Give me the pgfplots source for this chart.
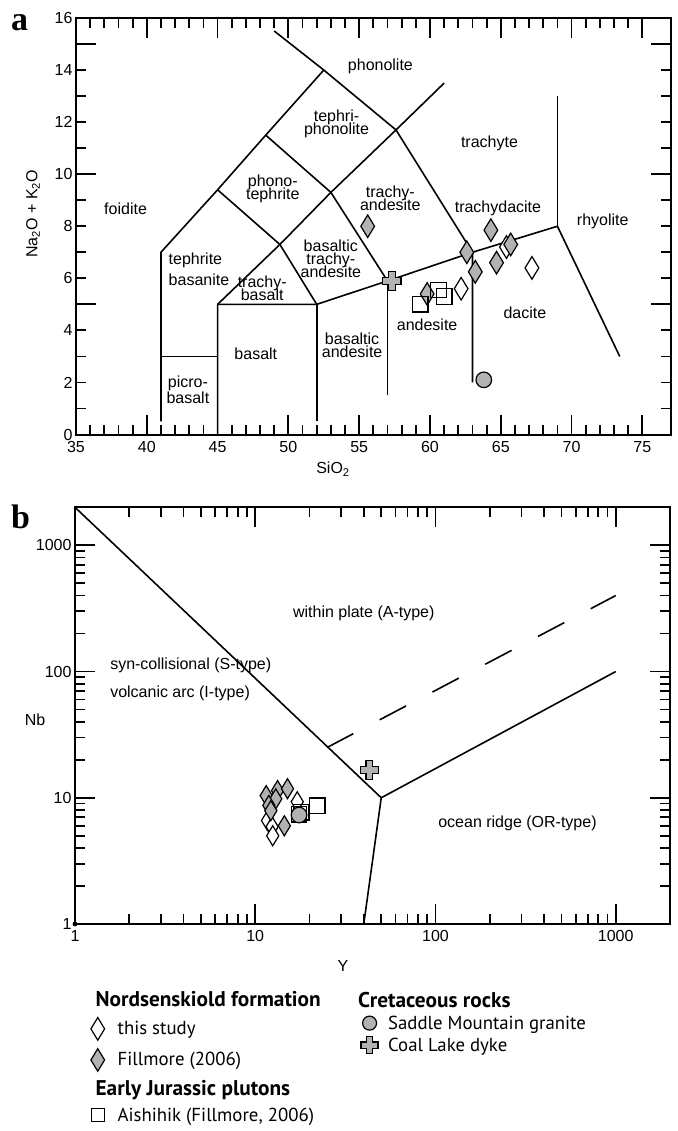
\documentclass[border=0pt]{standalone}
\usepackage{fontspec}
\setmainfont{Liberation Sans}
\newfontfamily\legfont{PT Sans}
\newfontfamily\panelfont{Liberation Serif}
\usepackage{pgfplots}
\pgfplotsset{compat=1.18}

\definecolor{markgray}{RGB}{178,178,178}

% Greek cross with an outline, used for the Coal Lake dyke
\pgfdeclareplotmark{fatplus}{%
  \pgfpathmoveto{\pgfqpoint{-0.36\pgfplotmarksize}{\pgfplotmarksize}}%
  \pgfpathlineto{\pgfqpoint{0.36\pgfplotmarksize}{\pgfplotmarksize}}%
  \pgfpathlineto{\pgfqpoint{0.36\pgfplotmarksize}{0.36\pgfplotmarksize}}%
  \pgfpathlineto{\pgfqpoint{\pgfplotmarksize}{0.36\pgfplotmarksize}}%
  \pgfpathlineto{\pgfqpoint{\pgfplotmarksize}{-0.36\pgfplotmarksize}}%
  \pgfpathlineto{\pgfqpoint{0.36\pgfplotmarksize}{-0.36\pgfplotmarksize}}%
  \pgfpathlineto{\pgfqpoint{0.36\pgfplotmarksize}{-\pgfplotmarksize}}%
  \pgfpathlineto{\pgfqpoint{-0.36\pgfplotmarksize}{-\pgfplotmarksize}}%
  \pgfpathlineto{\pgfqpoint{-0.36\pgfplotmarksize}{-0.36\pgfplotmarksize}}%
  \pgfpathlineto{\pgfqpoint{-\pgfplotmarksize}{-0.36\pgfplotmarksize}}%
  \pgfpathlineto{\pgfqpoint{-\pgfplotmarksize}{0.36\pgfplotmarksize}}%
  \pgfpathlineto{\pgfqpoint{-0.36\pgfplotmarksize}{0.36\pgfplotmarksize}}%
  \pgfpathclose
  \pgfusepathqfillstroke
}

\newcommand\lab{\fontsize{16}{13}\selectfont\lineskiplimit=-50pt\relax}

\pgfplotsset{
  frame/.style={
    scale only axis, clip=false,
    axis line style={line width=2pt},
    tick style={line width=1.8pt, black},
    tick align=inside,
    xtick pos=both, ytick pos=both,
    xticklabel pos=lower, yticklabel pos=left,
    major tick length=20pt, minor tick length=10pt,
    tick label style={font=\fontsize{16}{16}\selectfont},
    xticklabel style={yshift=-3pt},
    /pgf/number format/assume math mode=true,
  },
  field/.style={black, line width=1.6pt, no markers},
  openDiam/.style={only marks, mark=diamond*, mark size=#1,
    mark options={xscale=0.81, fill=white, draw=black, line width=1.2pt}},
  greyDiam/.style={only marks, mark=diamond*, mark size=#1,
    mark options={xscale=0.81, fill=markgray, draw=black, line width=1.2pt}},
  openSq/.style={only marks, mark=square, mark size=#1,
    mark options={draw=black, line width=1.3pt}},
  greyDot/.style={only marks, mark=*, mark size=#1,
    mark options={fill=markgray, draw=black, line width=1.2pt}},
  greyCross/.style={only marks, mark=fatplus, mark size=#1,
    mark options={fill=markgray, draw=black, line width=1.2pt}},
}

\begin{document}
\begin{tikzpicture}[x=1pt,y=1pt]
\useasboundingbox (0,0) rectangle (677,-1131);

% ---------------- (a) total alkali vs silica ----------------
\begin{axis}[frame,
  at={(76pt,-434.5pt)}, anchor=south west,
  width=594.7pt, height=416.5pt,
  xmin=35, xmax=77, ymin=0, ymax=16,
  xtick={35,40,...,75}, minor x tick num=4,
  ytick={5,10,15}, yticklabels={{},{},{}},
  minor ytick={1,2,...,16},
  extra y ticks={0,2,...,16},
  extra y tick labels={0,2,4,6,8,10,12,14,16},
  extra y tick style={major tick length=10pt},
]
\addplot[field] coordinates {(41,0.5) (41,7) (45,9.4) (48.4,11.5) (52.5,14)};
\addplot[field] coordinates {(49,15.5) (52.5,14) (57.6,11.7) (63,7) (63,2)};
\addplot[field] coordinates {(41,3) (45,3)};
\addplot[field] coordinates {(45,0) (45,5) (52,5) (57,5.9) (63,7) (69,8) (73.4,3)};
\addplot[field] coordinates {(52,0.5) (52,5)};
\addplot[field] coordinates {(57,1.5) (57,5.9)};
\addplot[field] coordinates {(45,5) (49.4,7.3) (53,9.3) (57.6,11.7) (61,13.5)};
\addplot[field] coordinates {(45,9.4) (49.4,7.3) (52,5)};
\addplot[field] coordinates {(48.4,11.5) (53,9.3) (57,5.9)};
\addplot[field] coordinates {(69,8) (69,13)};

\node[font=\lab] at (axis cs:56.5,14.16) {phonolite};
\node[font=\lab, align=center] at (axis cs:53.4,11.95) {tephri-\\phonolite};
\node[font=\lab] at (axis cs:64.2,11.2) {trachyte};
\node[font=\lab, align=center] at (axis cs:48.9,9.42) {phono-\\tephrite};
\node[font=\lab] at (axis cs:38.5,8.68) {foidite};
\node[font=\lab, anchor=west] at (axis cs:41.3,6.7) {tephrite};
\node[font=\lab, anchor=west] at (axis cs:41.3,5.93) {basanite};
\node[font=\lab, align=center] at (axis cs:48.15,5.6) {trachy-\\basalt};
\node[font=\lab, align=center] at (axis cs:53.0,6.76) {basaltic\\trachy-\\andesite};
\node[font=\lab, align=center] at (axis cs:57.2,9.07) {trachy-\\andesite};
\node[font=\lab] at (axis cs:64.8,8.68) {trachydacite};
\node[font=\lab] at (axis cs:72.2,8.17) {rhyolite};
\node[font=\lab] at (axis cs:47.7,3.1) {basalt};
\node[font=\lab, align=center] at (axis cs:54.5,3.44) {basaltic\\andesite};
\node[font=\lab] at (axis cs:59.8,4.2) {andesite};
\node[font=\lab] at (axis cs:66.7,4.69) {dacite};
\node[font=\fontsize{16}{15.7}\selectfont, align=center] at (axis cs:42.9,1.73) {picro-\\basalt};

% Nordsenskiold formation, this study
\addplot[openDiam=11.3pt] coordinates {(65.4,7.2) (62.2,5.6) (67.2,6.4)};
% Nordsenskiold formation, Fillmore (2006)
\addplot[greyDiam=11.3pt] coordinates {(55.6,8.0) (62.6,7.0) (64.3,7.85) (63.2,6.25) (64.7,6.6) (65.7,7.3) (59.8,5.4)};
% Aishihik pluton
\addplot[openSq=7.8pt] coordinates {(59.3,5.0) (60.6,5.55) (61.0,5.3)};
% Saddle Mountain granite
\addplot[greyDot=7.8pt] coordinates {(63.8,2.1)};
% Coal Lake dyke
\addplot[greyCross=9.3pt] coordinates {(57.3,5.9)};
\end{axis}

\node[font=\fontsize{16}{16}\selectfont] at (333,-469) {SiO\textsubscript{2}};
\node[font=\fontsize{16}{16}\selectfont, rotate=90] at (33,-214) {Na\textsubscript{2}O + K\textsubscript{2}O};
\node[font=\panelfont\bfseries\fontsize{34}{34}\selectfont, anchor=base west, inner sep=0pt] at (11,-31) {a};

% ---------------- (b) Nb vs Y discrimination ----------------
\begin{axis}[frame,
  at={(75pt,-924pt)}, anchor=south west,
  width=595pt, height=416.7pt,
  xmode=log, ymode=log,
  xmin=1, xmax=2000, ymin=1, ymax=2000,
  xtick={1,10,100,1000}, xticklabels={1,10,100,1000},
  ytick={1,10,100,1000}, yticklabels={1,10,100,1000},
  minor xtick={2,3,...,9,20,30,...,90,200,300,...,900},
  minor ytick={2,3,...,9,20,30,...,90,200,300,...,900},
]
\addplot[field] coordinates {(1,2000) (50,10) (1000,100)};
\addplot[field] coordinates {(50,10) (40,1)};
\addplot[black, line width=1.6pt, no markers, dash pattern=on 29.8pt off 29.8pt] coordinates {(25,25) (1000,400)};
\addplot[only marks, mark=*, mark size=2.2pt, black] coordinates {(1,1)};

\node[font=\lab] at (axis cs:40,290) {within plate (A-type)};
\node[font=\lab, anchor=west] at (axis cs:1.5,111) {syn-collisional (S-type)};
\node[font=\lab, anchor=west] at (axis cs:1.5,67.6) {volcanic arc (I-type)};
\node[font=\lab] at (axis cs:285,6.3) {ocean ridge (OR-type)};

\addplot[openDiam=10pt] coordinates {(11.7,6.6) (12.4,5.9) (12.5,5.0) (17.1,9.3)};
\addplot[greyDiam=10pt] coordinates {(11.5,10.4) (13.3,11.4) (15.1,11.8) (13.0,9.8) (11.9,8.7) (12.2,7.9) (14.5,6.0)};
\addplot[openSq=7.8pt] coordinates {(17.5,7.4) (18.0,7.7) (22.1,8.65)};
\addplot[greyDot=7.8pt] coordinates {(17.5,7.3)};
\addplot[greyCross=9.3pt] coordinates {(43,16.6)};
\end{axis}

\node[font=\fontsize{16}{16}\selectfont] at (343,-966) {Y};
\node[font=\fontsize{16}{16}\selectfont] at (35,-720) {Nb};
\node[font=\panelfont\bfseries\fontsize{34}{34}\selectfont, anchor=base west, inner sep=0pt] at (11,-528) {b};

% ---------------- legend ----------------
\begin{axis}[hide axis, scale only axis,
  at={(0pt,-1131pt)}, anchor=south west,
  width=677pt, height=1131pt,
  xmin=0, xmax=1, ymin=0, ymax=1,
  legend cell align=left,
  legend style={at={(0.1315,0.1245)}, anchor=north west,
    draw=none, fill=none, inner sep=0pt, row sep=8.5pt,
    font=\legfont\fontsize{18.8}{18.8}\selectfont,
    nodes={inner xsep=13pt, inner ysep=1pt}},
]
\addlegendimage{empty legend}
\addlegendentry{\hspace*{-22pt}\fontsize{21.3}{21.3}\selectfont\bfseries Nordsenskiold formation}
\addlegendimage{openDiam=11.3pt}
\addlegendentry{this study}
\addlegendimage{greyDiam=11.3pt}
\addlegendentry{Fillmore (2006)}
\addlegendimage{empty legend}
\addlegendentry{\hspace*{-22pt}\fontsize{21.3}{21.3}\selectfont\bfseries Early Jurassic plutons}
\addlegendimage{openSq=6.5pt}
\addlegendentry{Aishihik (Fillmore, 2006)}
\end{axis}

\begin{axis}[hide axis, scale only axis,
  at={(0pt,-1131pt)}, anchor=south west,
  width=677pt, height=1131pt,
  xmin=0, xmax=1, ymin=0, ymax=1,
  legend cell align=left,
  legend style={at={(0.533,0.1240)}, anchor=north west,
    draw=none, fill=none, inner sep=0pt, row sep=5pt,
    font=\legfont\fontsize{18.8}{18.8}\selectfont,
    nodes={inner xsep=10pt, inner ysep=1pt}},
]
\addlegendimage{empty legend}
\addlegendentry{\hspace*{-30pt}\fontsize{21.3}{21.3}\selectfont\bfseries Cretaceous rocks}
\addlegendimage{greyDot=7pt}
\addlegendentry{Saddle Mountain granite}
\addlegendimage{greyCross=8.5pt}
\addlegendentry{Coal Lake dyke}
\end{axis}
\end{tikzpicture}
\end{document}
